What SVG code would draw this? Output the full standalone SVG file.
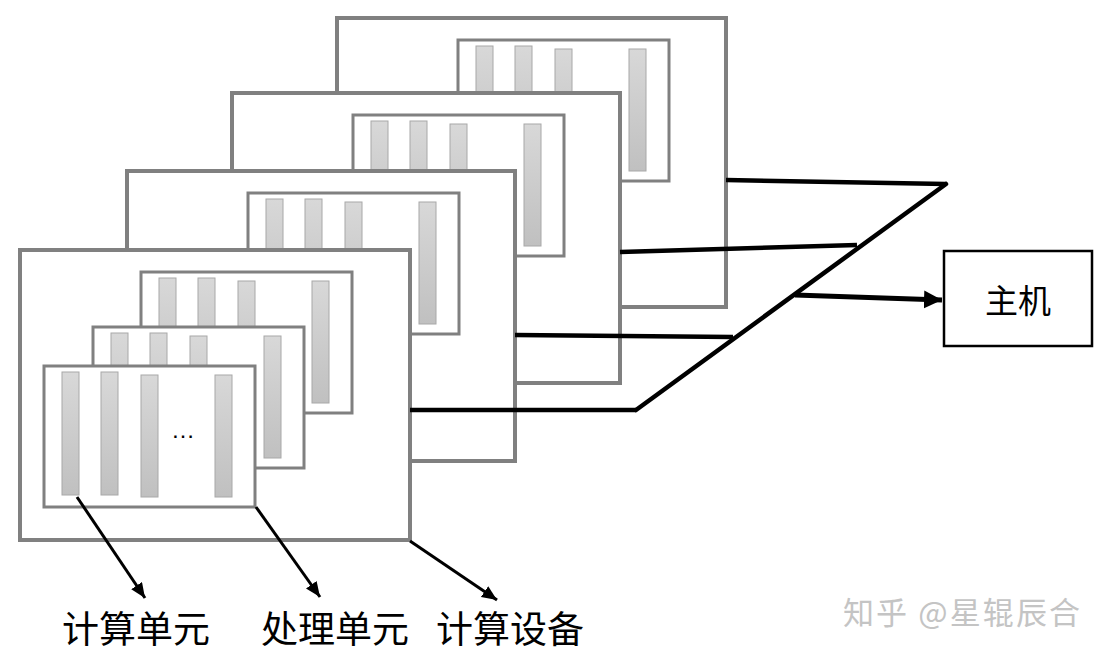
<svg xmlns="http://www.w3.org/2000/svg" xmlns:xlink="http://www.w3.org/1999/xlink" width="1108" height="659" viewBox="0 0 1108 659">
<style>
.dev{fill:#fff;stroke:#808080;stroke-width:4}
.pu{fill:#fff;stroke:#808080;stroke-width:3}
.bar{fill:url(#barGrad);stroke:#a8a8a8;stroke-width:1}
.conn{stroke:#000;stroke-width:4.5;fill:none}
.lbl{stroke:#000;stroke-width:3;fill:none}
.txt{font-family:"Noto Sans CJK SC","Liberation Sans",sans-serif;fill:#000;font-weight:400}
</style>
<defs>
<linearGradient id="barGrad" x1="0" y1="0" x2="0" y2="1">
<stop offset="0" stop-color="#d8d8d8"/>
<stop offset="1" stop-color="#c0c0c0"/>
</linearGradient>
<marker id="bigArrow" markerUnits="userSpaceOnUse" markerWidth="20" markerHeight="20" refX="18" refY="9" orient="auto" viewBox="0 0 20 20">
<path d="M0,0 L18,9 L0,18 z" fill="#000"/>
</marker>
<marker id="smallArrow" markerUnits="userSpaceOnUse" markerWidth="16" markerHeight="14" refX="15" refY="6.5" orient="auto" viewBox="0 0 16 14">
<path d="M0,0 L15,6.5 L0,13 z" fill="#000"/>
</marker>
<g id="puShape">
<rect class="pu" x="0" y="0" width="211" height="141"/>
<rect class="bar" x="18" y="6" width="17" height="123"/>
<rect class="bar" x="57" y="6" width="17" height="123"/>
<rect class="bar" x="97" y="9" width="17" height="122"/>
<rect class="bar" x="171" y="9" width="17" height="122"/>
</g>
</defs>
<rect width="1108" height="659" fill="#fff"/>

<g id="device4">
<rect class="dev" x="337" y="18" width="389" height="289"/>
<use xlink:href="#puShape" x="458" y="40"/>
</g>
<g id="device3">
<rect class="dev" x="232" y="93" width="388" height="290"/>
<use xlink:href="#puShape" x="353" y="115"/>
</g>
<g id="device2">
<rect class="dev" x="127" y="171" width="388" height="290"/>
<use xlink:href="#puShape" x="248" y="193"/>
</g>
<g id="device1">
<rect class="dev" x="20" y="250" width="390" height="290"/>
<use xlink:href="#puShape" x="141" y="272"/>
<use xlink:href="#puShape" x="93" y="327"/>
<use xlink:href="#puShape" x="44" y="366"/>
<text x="183" y="438" font-family="Liberation Sans, sans-serif" font-size="24" text-anchor="middle" fill="#000">…</text>
</g>

<g id="host">
<rect x="944" y="251" width="148" height="95" fill="#fff" stroke="#000" stroke-width="2.5"/>
<text class="txt" x="1018" y="313" font-size="33" text-anchor="middle">主机</text>
</g>

<g id="connectors">
<line class="conn" x1="726" y1="180" x2="946" y2="184"/>
<line class="conn" x1="620" y1="252" x2="857" y2="245"/>
<line class="conn" x1="515" y1="335" x2="733" y2="337"/>
<line class="conn" x1="410" y1="410" x2="636" y2="410"/>
<line class="conn" x1="946" y1="184" x2="636" y2="410" stroke-linecap="round"/>
<line x1="795" y1="295" x2="942" y2="300" stroke="#000" stroke-width="5" marker-end="url(#bigArrow)"/>
<line class="lbl" x1="77" y1="497" x2="145" y2="598" marker-end="url(#smallArrow)"/>
<line class="lbl" x1="256" y1="507" x2="320" y2="597" marker-end="url(#smallArrow)"/>
<line class="lbl" x1="410" y1="541" x2="497" y2="600" marker-end="url(#smallArrow)"/>
</g>

<g id="labels">
<text class="txt" x="62" y="643" font-size="37">计算单元</text>
<text class="txt" x="261" y="643" font-size="37">处理单元</text>
<text class="txt" x="436" y="643" font-size="37">计算设备</text>
</g>

<g id="watermark">
<text x="843" y="624" font-family="Noto Sans CJK SC, sans-serif" font-size="31" fill="#c4c4c4" textLength="237" lengthAdjust="spacing">知乎 @星辊辰合</text>
</g>
</svg>
